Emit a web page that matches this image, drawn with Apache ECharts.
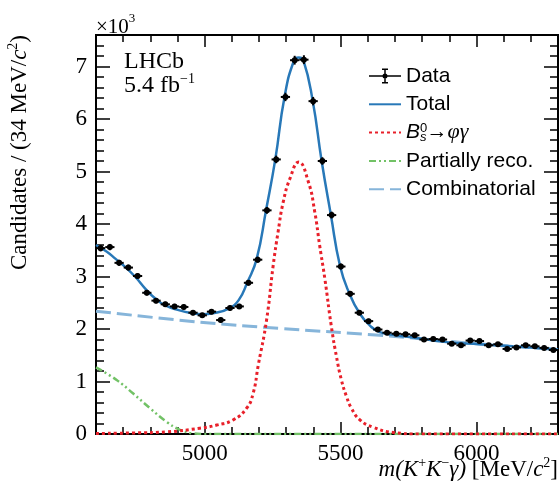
<!DOCTYPE html>
<html><head><meta charset="utf-8">
<script src="https://cdn.jsdelivr.net/npm/echarts@6/dist/echarts.min.js"></script>
<style>html,body{margin:0;padding:0;background:#fff}#c{width:560px;height:483px}</style>
</head><body><div id="c"></div>
<script>
// ---- data (units: 10^3 candidates / 34 MeV) ----
const binWidth = 34;
const binCenters = [4617, 4651, 4685, 4719, 4753, 4787, 4821, 4855, 4889, 4923,
  4957, 4991, 5025, 5059, 5093, 5127, 5161, 5195, 5229, 5263,
  5297, 5331, 5365, 5399, 5433, 5467, 5501, 5535, 5569, 5603,
  5637, 5671, 5705, 5739, 5773, 5807, 5841, 5875, 5909, 5943,
  5977, 6011, 6045, 6079, 6113, 6147, 6181, 6215, 6249, 6283];
const dataValues = [3.54, 3.56, 3.26, 3.17, 3.01, 2.69, 2.54, 2.47, 2.43, 2.42,
  2.31, 2.26, 2.33, 2.17, 2.40, 2.43, 2.88, 3.32, 4.26, 5.23,
  6.42, 7.12, 7.13, 6.34, 5.20, 4.17, 3.19, 2.67, 2.31, 2.15,
  1.99, 1.93, 1.91, 1.90, 1.88, 1.80, 1.81, 1.80, 1.72, 1.69,
  1.78, 1.77, 1.69, 1.71, 1.62, 1.65, 1.69, 1.67, 1.64, 1.60];
const dataErrors = [0.060, 0.060, 0.057, 0.056, 0.055, 0.052, 0.050, 0.050, 0.049, 0.049,
  0.048, 0.048, 0.048, 0.047, 0.049, 0.049, 0.054, 0.058, 0.065, 0.072,
  0.080, 0.084, 0.084, 0.080, 0.072, 0.065, 0.056, 0.052, 0.048, 0.046,
  0.045, 0.044, 0.044, 0.044, 0.043, 0.042, 0.043, 0.042, 0.041, 0.041,
  0.042, 0.042, 0.041, 0.041, 0.040, 0.041, 0.041, 0.041, 0.040, 0.040];

const totalMass   = [4600, 4640, 4671, 4708, 4745, 4781, 4818, 4855, 4904, 4953, 4990, 5039, 5088, 5125, 5157, 5191, 5226, 5260, 5294, 5329, 5346, 5363, 5397, 5430, 5464, 5498, 5532, 5571, 5607, 5644, 5705, 5767, 5889, 6012, 6134, 6300];
const totalValues = [3.60, 3.47, 3.34, 3.18, 2.99, 2.77, 2.58, 2.45, 2.36, 2.30, 2.28, 2.31, 2.39, 2.55, 2.89, 3.33, 4.27, 5.24, 6.43, 7.12, 7.17, 7.12, 6.36, 5.21, 4.18, 3.20, 2.68, 2.29, 2.07, 1.94, 1.88, 1.84, 1.75, 1.71, 1.67, 1.61];

const signalMass   = [4600, 4738, 4860, 4982, 5044, 5105, 5154, 5178, 5197, 5227, 5252, 5270, 5289, 5314, 5346, 5381, 5405, 5423, 5442, 5466, 5485, 5503, 5522, 5540, 5571, 5619, 5693, 5790, 6300];
const signalValues = [0.01, 0.02, 0.04, 0.11, 0.17, 0.27, 0.49, 0.77, 1.31, 2.15, 3.21, 3.85, 4.42, 4.87, 5.18, 4.81, 4.23, 3.59, 2.96, 2.05, 1.47, 1.03, 0.71, 0.49, 0.27, 0.13, 0.03, 0.00, 0.00];

const partialMass   = [4600, 4676, 4737, 4799, 4860, 4909, 4958, 5000, 6300];
const partialValues = [1.27, 1.03, 0.77, 0.49, 0.23, 0.08, 0.01, 0.00, 0.00];

const combMass   = [4600, 4982, 5276, 5644, 6000, 6300];
const combValues = [2.34, 2.13, 2.01, 1.88, 1.72, 1.61];

const xMinorTickStep = 100;
const xMajorTicks = [5000, 5500, 6000];
const yMajorTicks = [0, 1, 2, 3, 4, 5, 6, 7];
const seriesNames = ['Data', 'Total', 'B_s^0→φγ', 'Partially reco.', 'Combinatorial'];

// ---- chart ----
const SERIF = '"Liberation Serif", "Times New Roman", serif';
const SANS = '"Liberation Sans", Arial, Helvetica, sans-serif';
const pairs = (xs, ys) => xs.map((x, i) => [x, ys[i]]);

const chart = echarts.init(document.getElementById('c'), null, {renderer: 'canvas'});

const grid = {left: 96, right: 2, top: 35, bottom: 49, containLabel: false};
const xBase = {type: 'value', min: 4600, max: 6300, gridIndex: 0, splitLine: {show: false},
  axisLine: {show: true, onZero: false, lineStyle: {color: '#000', width: 2}}};
const yBase = {type: 'value', min: 0, max: 7.6, gridIndex: 0, splitLine: {show: false},
  axisLine: {show: true, onZero: false, lineStyle: {color: '#000', width: 2}}};
const plainNumber = v => String(v);

function xAxisDef(pos, major, labels) {
  return Object.assign({}, xBase, {
    position: pos,
    interval: major ? undefined : xMinorTickStep,
    axisTick: major ? {show: true, inside: true, length: 12, customValues: xMajorTicks, lineStyle: {color: '#000', width: 1.5}}
                    : {show: true, inside: true, length: 7, lineStyle: {color: '#000', width: 1.5}},
    axisLabel: labels ? {show: true, customValues: xMajorTicks, formatter: plainNumber, margin: 8, color: '#000', fontFamily: SERIF, fontSize: 23}
                      : {show: false}
  });
}
function yAxisDef(pos, major, labels) {
  return Object.assign({}, yBase, {
    position: pos,
    interval: major ? 1 : 0.2,
    axisTick: major ? {show: true, inside: true, length: 14, customValues: yMajorTicks, lineStyle: {color: '#000', width: 1.5}}
                    : {show: true, inside: true, length: 8, lineStyle: {color: '#000', width: 1.5}},
    axisLabel: labels ? {show: true, customValues: yMajorTicks, formatter: plainNumber, margin: 9, color: '#000', fontFamily: SERIF, fontSize: 23}
                      : {show: false}
  });
}

const dataPoints = binCenters.map((x, i) => [x, dataValues[i], dataErrors[i]]);

const dataIcon = 'path://M0,6.75 L32,6.75 L32,8.25 L0,8.25 Z M15.25,0 L16.75,0 L16.75,15 L15.25,15 Z M13,0 L19,0 L19,1.5 L13,1.5 Z M13,13.5 L19,13.5 L19,15 L13,15 Z M13.5,7.5 A2.5,2.5 0 1 1 18.5,7.5 A2.5,2.5 0 1 1 13.5,7.5 Z';

const option = {
  backgroundColor: '#fff',
  animation: false,
  grid: grid,
  xAxis: [xAxisDef('bottom', false, false), xAxisDef('bottom', true, true),
          xAxisDef('top', false, false), xAxisDef('top', true, false)],
  yAxis: [yAxisDef('left', true, true), yAxisDef('left', false, false),
          yAxisDef('right', true, false), yAxisDef('right', false, false)],
  legend: {
    orient: 'vertical', left: 363, top: 60,
    itemWidth: 32, itemHeight: 15, itemGap: 6.3, itemTextGap: 8,
    selectedMode: false,
    itemStyle: {opacity: 0},
    textStyle: {color: '#000', fontFamily: SANS, fontSize: 21, lineHeight: 22,
      rich: {
        bi: {fontFamily: SANS, fontStyle: 'italic', fontSize: 21, lineHeight: 22},
        sup: {fontFamily: SANS, fontSize: 13, lineHeight: 12, verticalAlign: 'top', width: 0},
        sub: {fontFamily: SANS, fontStyle: 'italic', fontSize: 13, lineHeight: 12, verticalAlign: 'bottom'},
        ar: {fontFamily: SERIF, fontSize: 21, lineHeight: 22},
        gr: {fontFamily: SERIF, fontStyle: 'italic', fontSize: 22, lineHeight: 22}
      }},
    formatter: function (name) {
      if (name === seriesNames[2]) return '{bi|B}{sup|0}{sub|s}{ar|→}{gr|φγ}';
      return name;
    },
    data: [{name: seriesNames[0], icon: dataIcon, itemStyle: {opacity: 1, color: '#000'}},
           seriesNames[1], seriesNames[2], seriesNames[3], seriesNames[4]]
  },
  series: [
    {
      name: seriesNames[4], type: 'line', xAxisIndex: 0, yAxisIndex: 0, data: pairs(combMass, combValues),
      smooth: 0.4, showSymbol: false, symbol: 'none', z: 3,
      lineStyle: {color: '#86b5da', width: 3, type: [15, 6]}, itemStyle: {color: '#86b5da'}
    },
    {
      name: seriesNames[3], type: 'line', xAxisIndex: 0, yAxisIndex: 0, data: pairs(partialMass, partialValues),
      smooth: 0.4, showSymbol: false, symbol: 'none', z: 3,
      lineStyle: {color: '#72c266', width: 2.5, type: [7, 3, 2, 3, 2, 3]}, itemStyle: {color: '#72c266'}
    },
    {
      name: seriesNames[2], type: 'line', xAxisIndex: 0, yAxisIndex: 0, data: pairs(signalMass, signalValues),
      smooth: 0.5, showSymbol: false, symbol: 'none', z: 3,
      lineStyle: {color: '#e8202a', width: 3, type: [3, 3]}, itemStyle: {color: '#e8202a'}
    },
    {
      name: seriesNames[1], type: 'line', xAxisIndex: 0, yAxisIndex: 0, data: pairs(totalMass, totalValues),
      smooth: 0.5, showSymbol: false, symbol: 'none', z: 4,
      lineStyle: {color: '#2878b8', width: 2.5}, itemStyle: {color: '#2878b8'}
    },
    {
      name: seriesNames[0], type: 'custom', xAxisIndex: 0, yAxisIndex: 0, data: dataPoints, z: 5,
      itemStyle: {color: '#000'},
      encode: {x: 0, y: 1},
      renderItem: function (params, api) {
        const x = api.value(0), y = api.value(1), e = api.value(2);
        const c = api.coord([x, y]);
        const l = api.coord([x - binWidth / 2, y]);
        const r = api.coord([x + binWidth / 2, y]);
        const t = api.coord([x, y + e]);
        const b = api.coord([x, y - e]);
        return {type: 'group', children: [
          {type: 'line', shape: {x1: l[0], y1: c[1], x2: r[0], y2: c[1]}, style: {stroke: '#000', lineWidth: 2}},
          {type: 'line', shape: {x1: c[0], y1: t[1], x2: c[0], y2: b[1]}, style: {stroke: '#000', lineWidth: 2}},
          {type: 'circle', shape: {cx: c[0], cy: c[1], r: 3}, style: {fill: '#000'}}
        ]};
      }
    }
  ],
  graphic: [
    {type: 'text', left: 96, top: 12, style: {text: '{n|×10}{s|3}', fill: '#000',
      rich: {n: {fontFamily: SERIF, fontSize: 21, lineHeight: 26, verticalAlign: 'bottom'},
             s: {fontFamily: SERIF, fontSize: 13, lineHeight: 14, verticalAlign: 'top'}}}},
    {type: 'text', x: 124, y: 62, style: {text: 'LHCb', fill: '#000', fontFamily: SERIF, fontSize: 24, verticalAlign: 'middle', align: 'left'}},
    {type: 'text', x: 124, y: 86, style: {text: '{n|5.4 fb}{s|−1}', fill: '#000', verticalAlign: 'middle', align: 'left',
      rich: {n: {fontFamily: SERIF, fontSize: 24, lineHeight: 28},
             s: {fontFamily: SERIF, fontSize: 14, lineHeight: 14, verticalAlign: 'top'}}}},
    {type: 'text', x: 558, y: 470, style: {text: '{i|m(K}{s|+}{i|K}{s|−}{i|γ)}{n| [MeV/}{i|c}{s|2}{n|]}', fill: '#000', align: 'right', verticalAlign: 'middle',
      rich: {n: {fontFamily: SERIF, fontSize: 23, lineHeight: 28},
             i: {fontFamily: SERIF, fontStyle: 'italic', fontSize: 23, lineHeight: 28},
             s: {fontFamily: SERIF, fontSize: 14, lineHeight: 14, verticalAlign: 'top'}}}},
    {type: 'text', x: 20, y: 35, rotation: Math.PI / 2, style: {text: '{n|Candidates / (34 MeV/}{i|c}{s|2}{n|)}', fill: '#000', align: 'right', verticalAlign: 'middle',
      rich: {n: {fontFamily: SERIF, fontSize: 23, lineHeight: 28},
             i: {fontFamily: SERIF, fontStyle: 'italic', fontSize: 23, lineHeight: 28},
             s: {fontFamily: SERIF, fontSize: 14, lineHeight: 14, verticalAlign: 'top'}}}}
  ]
};
chart.setOption(option);
</script>
</body></html>
